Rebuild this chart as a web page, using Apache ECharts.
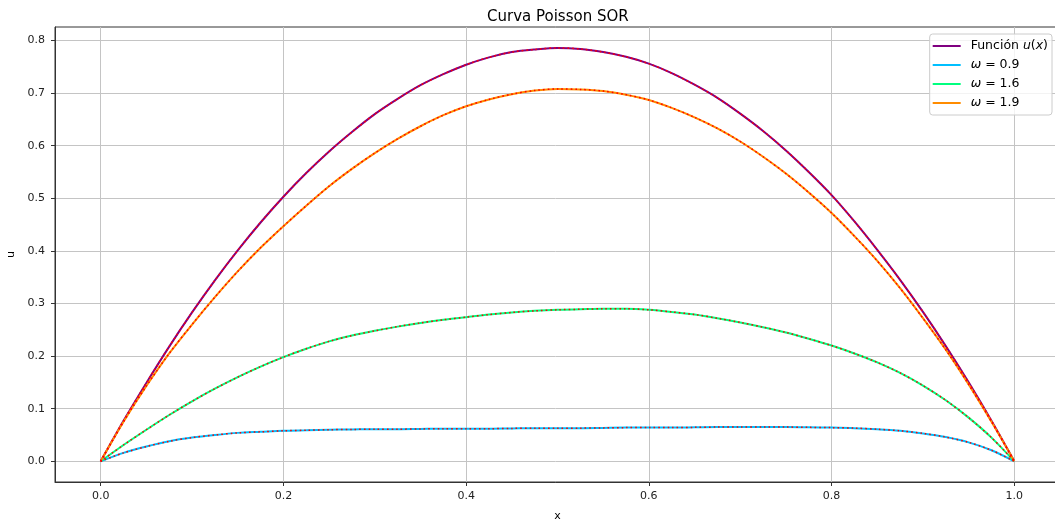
<!DOCTYPE html>
<html>
<head>
<meta charset="utf-8">
<script src="https://cdn.jsdelivr.net/npm/echarts@6/dist/echarts.min.js"></script>
<style>
  html, body { margin: 0; padding: 0; background: #fff; }
  #chart { width: 1055px; height: 520px; }
</style>
</head>
<body>
<div id="chart"></div>
<script>
// ---- data ----
const xs = [0, 0.025, 0.05, 0.075, 0.1, 0.125, 0.15, 0.175, 0.2, 0.225, 0.25, 0.275, 0.3, 0.325, 0.35, 0.375, 0.4, 0.425, 0.45, 0.475,
            0.5, 0.525, 0.55, 0.575, 0.6, 0.625, 0.65, 0.675, 0.7, 0.725, 0.75, 0.775, 0.8, 0.825, 0.85, 0.875, 0.9, 0.925, 0.95, 0.975, 1.0];
const uExact = [0, 0.077, 0.149, 0.218, 0.283, 0.344, 0.401, 0.454, 0.503, 0.548, 0.589, 0.626, 0.660, 0.689, 0.715, 0.736, 0.754, 0.768, 0.778, 0.783,
                0.786, 0.784, 0.778, 0.769, 0.756, 0.738, 0.716, 0.691, 0.661, 0.628, 0.591, 0.550, 0.506, 0.456, 0.402, 0.345, 0.284, 0.219, 0.150, 0.077, 0];
const w09 = [0, 0.016, 0.028, 0.038, 0.045, 0.050, 0.054, 0.056, 0.058, 0.059, 0.060, 0.0605, 0.061, 0.061, 0.0615, 0.062, 0.062, 0.062, 0.0625, 0.063,
             0.063, 0.063, 0.0635, 0.064, 0.064, 0.064, 0.0645, 0.065, 0.065, 0.065, 0.065, 0.0645, 0.064, 0.063, 0.061, 0.058, 0.053, 0.046, 0.036, 0.021, 0];
const w16 = [0, 0.031, 0.060, 0.088, 0.114, 0.138, 0.160, 0.180, 0.198, 0.214, 0.228, 0.239, 0.248, 0.256, 0.263, 0.269, 0.274, 0.279, 0.283, 0.286,
             0.288, 0.289, 0.290, 0.290, 0.288, 0.284, 0.279, 0.272, 0.264, 0.255, 0.245, 0.233, 0.220, 0.205, 0.188, 0.168, 0.144, 0.116, 0.083, 0.045, 0];
const w19 = [0, 0.075, 0.143, 0.205, 0.260, 0.312, 0.361, 0.406, 0.447, 0.486, 0.523, 0.556, 0.586, 0.613, 0.637, 0.658, 0.675, 0.688, 0.698, 0.705,
             0.708, 0.707, 0.704, 0.697, 0.687, 0.672, 0.654, 0.633, 0.608, 0.579, 0.547, 0.511, 0.472, 0.428, 0.381, 0.329, 0.272, 0.212, 0.146, 0.075, 0];
const xTicks = [0, 0.2, 0.4, 0.6, 0.8, 1.0];
const yTicks = [0, 0.1, 0.2, 0.3, 0.4, 0.5, 0.6, 0.7, 0.8];
const names  = ['Función u(x)', 'ω = 0.9', 'ω = 1.6', 'ω = 1.9'];
const colors = ['#800080', '#00bfff', '#00ff7f', '#ff8c00'];
const titleText = 'Curva Poisson SOR';

const values = [uExact, w09, w16, w19];
const FONT = 'DejaVu Sans';

const pairs = arr => xs.map((x, i) => [x, arr[i]]);

const series = [];
values.forEach((v, i) => {
  series.push({
    name: names[i], type: 'line', data: pairs(v), symbol: 'none', smooth: 0.3,
    lineStyle: { color: colors[i], width: 2 }, itemStyle: { color: colors[i] },
    z: 2 + i, silent: true, animation: false
  });
});
values.forEach((v, i) => {
  series.push({
    name: 'num' + i, type: 'line', data: pairs(v), symbol: 'none', smooth: 0.3,
    lineStyle: { color: '#ff0000', width: 1.5, type: [1.6, 3], cap: 'butt' },
    z: 10, silent: true, animation: false
  });
});

const chart = echarts.init(document.getElementById('chart'), null, { renderer: 'canvas' });
chart.setOption({
  animation: false,
  backgroundColor: '#ffffff',
  textStyle: { fontFamily: FONT },
  title: {
    text: titleText, left: 482, top: 5,
    textStyle: { fontFamily: FONT, fontSize: 15, fontWeight: 'normal', color: '#000' }
  },
  grid: {
    left: 55, top: 27, right: -5, bottom: 38,
    outerBoundsMode: 'none', containLabel: false,
    show: true, borderColor: '#333', borderWidth: 1, backgroundColor: 'transparent'
  },
  legend: {
    data: names, orient: 'vertical', right: 3, top: 34,
    icon: 'rect', itemWidth: 28, itemHeight: 2, itemGap: 5,
    padding: [5, 4, 5, 3],
    borderColor: '#cccccc', borderWidth: 1, borderRadius: 3,
    backgroundColor: 'rgba(255,255,255,0.8)',
    formatter: function (name) {
      if (name === names[0]) return 'Función {i|u}({i|x})';
      return '{i|ω} = ' + name.split('= ')[1];
    },
    textStyle: {
      fontFamily: FONT, fontSize: 12.5, color: '#000', lineHeight: 14, padding: [0, 0, 0, 5],
      rich: { i: { fontFamily: FONT, fontStyle: 'italic', fontSize: 12.5, lineHeight: 14 } }
    }
  },
  xAxis: {
    type: 'value', min: -0.05, max: 1.05,
    name: 'x', nameLocation: 'middle', nameGap: 29,
    nameTextStyle: { fontFamily: FONT, fontSize: 11, color: '#000' },
    axisLine: { show: true, onZero: false, lineStyle: { color: '#333', width: 1 } },
    axisTick: { show: true, length: 4, customValues: xTicks, lineStyle: { color: '#333' } },
    axisLabel: { customValues: xTicks, margin: 9, fontFamily: FONT, fontSize: 11, color: '#222',
      formatter: v => v.toFixed(1) },
    splitLine: { show: true, customValues: xTicks, lineStyle: { color: '#c4c4c4', width: 1 } }
  },
  yAxis: {
    type: 'value', min: -0.0394, max: 0.8257,
    name: 'u', nameLocation: 'middle', nameGap: 37,
    nameTextStyle: { fontFamily: FONT, fontSize: 11, color: '#000' },
    axisLine: { show: true, onZero: false, lineStyle: { color: '#333', width: 1 } },
    axisTick: { show: true, length: 4, customValues: yTicks, lineStyle: { color: '#333' } },
    axisLabel: { customValues: yTicks, margin: 10, fontFamily: FONT, fontSize: 11, color: '#222',
      formatter: v => v.toFixed(1) },
    splitLine: { show: true, customValues: yTicks, lineStyle: { color: '#c4c4c4', width: 1 } }
  },
  series: series
});
</script>
</body>
</html>
